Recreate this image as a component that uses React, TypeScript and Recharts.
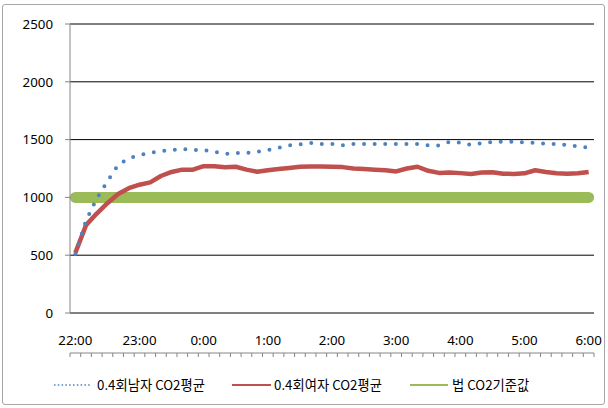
import React from "react";
import { LineChart, Line, XAxis, YAxis, CartesianGrid } from "recharts";

const hourLabels = ["22:00", "23:00", "0:00", "1:00", "2:00", "3:00", "4:00", "5:00", "6:00"];
const yTicks = [0, 500, 1000, 1500, 2000, 2500];

const maleAvg = [
  510, 800, 990, 1140, 1280, 1340, 1365, 1385, 1400, 1410,
  1420, 1410, 1410, 1395, 1375, 1385, 1385, 1395, 1410, 1430,
  1450, 1460, 1470, 1462, 1462, 1450, 1462, 1462, 1462, 1462,
  1462, 1462, 1462, 1450, 1450, 1480, 1475, 1455, 1470, 1480,
  1482, 1482, 1475, 1473, 1465, 1462, 1452, 1440, 1430,
];
const femaleAvg = [
  520, 760, 860, 950, 1030, 1080, 1110, 1130, 1185, 1220,
  1240, 1240, 1270, 1270, 1260, 1265, 1240, 1222, 1235, 1245,
  1255, 1265, 1268, 1268, 1265, 1262, 1250, 1245, 1240, 1235,
  1225, 1250, 1265, 1230, 1212, 1215, 1210, 1202, 1215, 1218,
  1205, 1203, 1208, 1235, 1220, 1208, 1205, 1208, 1220,
];
const legalStd = 1000;

const seriesNames = ["0.4회남자 CO2평균", "0.4회여자 CO2평균", "법 CO2기준값"];

const data = maleAvg.map((m, i) => ({
  idx: i,
  male: m,
  female: femaleAvg[i],
  std: legalStd,
}));

const majorTicks = hourLabels.map((_, i) => i * 6);
const minorTicks = Array.from({ length: maleAvg.length + 1 }, (_, i) => i - 0.5);

const FONT = "'Noto Sans', 'Noto Sans CJK KR', sans-serif";
const KFONT = "'Noto Sans CJK KR', 'Noto Sans', sans-serif";

export default function App() {
  return (
    <div style={{ position: "fixed", left: 0, top: 0, width: 608, height: 408, background: "#fff" }}>
      <div
        style={{
          position: "absolute",
          left: 2,
          top: 4,
          width: 603,
          height: 401,
          border: "1px solid #a6a6a6",
          borderRadius: 3,
          boxSizing: "border-box",
        }}
      />
      <div style={{ position: "absolute", left: 0, top: 0 }}>
        <LineChart
          width={608}
          height={408}
          data={data}
          margin={{ top: 24, right: 14, left: 10, bottom: 54 }}
        >
          <CartesianGrid vertical={false} stroke="#000" strokeWidth={1} />
          <XAxis
            xAxisId="minor"
            dataKey="idx"
            type="number"
            domain={[-0.5, 48.5]}
            ticks={minorTicks}
            interval={0}
            height={1}
            tickSize={4}
            tickMargin={0}
            tickFormatter={() => ""}
            stroke="#868686"
            axisLine={{ stroke: "#868686" }}
            tickLine={{ stroke: "#868686" }}
            allowDataOverflow
          />
          <XAxis
            dataKey="idx"
            type="number"
            domain={[-0.5, 48.5]}
            ticks={majorTicks}
            interval={0}
            height={40}
            tickSize={0}
            tickMargin={23}
            tickLine={false}
            axisLine={false}
            tickFormatter={(v: number) => hourLabels[Math.round(v / 6)] ?? ""}
            tick={{ fill: "#000", fontSize: 13.3, fontFamily: FONT }}
            allowDataOverflow
          />
          <YAxis
            domain={[0, 2500]}
            ticks={yTicks}
            interval={0}
            width={60}
            tickSize={5}
            tickMargin={12}
            stroke="#868686"
            axisLine={{ stroke: "#868686" }}
            tickLine={{ stroke: "#868686" }}
            tick={{ fill: "#000", fontSize: 13.3, fontFamily: FONT }}
          />
          <Line
            dataKey="std"
            name={seriesNames[2]}
            stroke="#9bbb59"
            strokeWidth={11}
            strokeLinecap="round"
            dot={false}
            activeDot={false}
            isAnimationActive={false}
          />
          <Line
            dataKey="female"
            name={seriesNames[1]}
            stroke="#c0504d"
            strokeWidth={4.5}
            strokeLinejoin="round"
            dot={false}
            activeDot={false}
            isAnimationActive={false}
          />
          <Line
            dataKey="male"
            name={seriesNames[0]}
            stroke="#4f81bd"
            strokeWidth={4}
            strokeLinecap="round"
            strokeDasharray="0 10.6"
            dot={false}
            activeDot={false}
            isAnimationActive={false}
          />
        </LineChart>
      </div>
      <div
        style={{
          position: "absolute",
          top: 374,
          left: 0,
          width: 608,
          height: 22,
          fontFamily: KFONT,
          fontSize: 13.3,
          color: "#000",
        }}
      >
        <svg width={608} height={22} style={{ position: "absolute", left: 0, top: 0 }}>
          <line x1={54} y1={11} x2={92} y2={11} stroke="#4f81bd" strokeWidth={1.5} strokeDasharray="1.5 2.3" />
          <line x1={232} y1={11} x2={271} y2={11} stroke="#c0504d" strokeWidth={2.2} />
          <line x1={410} y1={11} x2={448} y2={11} stroke="#9bbb59" strokeWidth={2.2} />
        </svg>
        <span style={{ position: "absolute", left: 97, top: 0, lineHeight: "22px", whiteSpace: "nowrap" }}>
          {seriesNames[0]}
        </span>
        <span style={{ position: "absolute", left: 274, top: 0, lineHeight: "22px", whiteSpace: "nowrap" }}>
          {seriesNames[1]}
        </span>
        <span style={{ position: "absolute", left: 452, top: 0, lineHeight: "22px", whiteSpace: "nowrap" }}>
          {seriesNames[2]}
        </span>
      </div>
    </div>
  );
}
